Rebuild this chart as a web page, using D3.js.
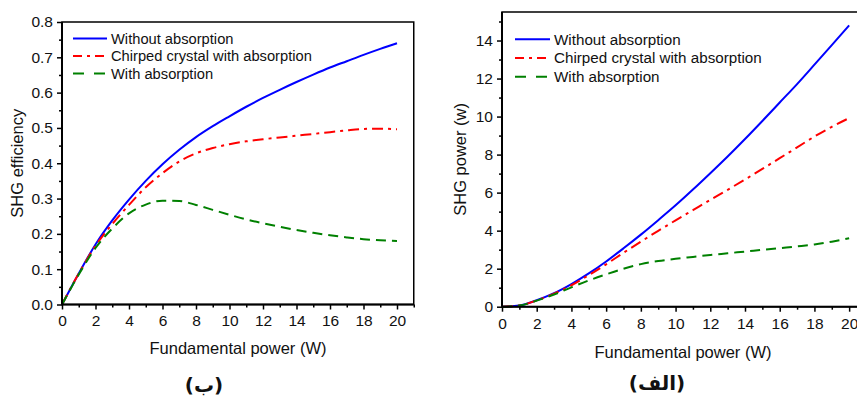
<!DOCTYPE html>
<html>
<head>
<meta charset="utf-8">
<script src="https://cdn.jsdelivr.net/npm/d3@7"></script>
<style>
  body { margin: 0; background: #fff; }
  svg { display: block; font-family: "Liberation Sans", Arial, sans-serif; }
  .tick text { font-size: 15.5px; fill: #111; }
  .axis-title { font-size: 16.5px; fill: #111; }
  .legend text { font-size: 14.7px; fill: #111; }
  .panel-label { font-family: "DejaVu Sans", sans-serif; font-weight: bold; font-size: 20px; fill: #111; }
</style>
</head>
<body>
<div id="chart"></div>
<script>
// Fundamental power (W)
const power = [0, 1, 2, 3, 4, 5, 6, 7, 8, 9, 10, 11, 12, 13, 14, 15, 16, 17, 18, 19, 20];

// Left panel (ب): SHG efficiency
const effWithout = [0, 0.088, 0.17, 0.238, 0.297, 0.35, 0.397, 0.438, 0.474, 0.505, 0.533, 0.56, 0.585, 0.608, 0.63, 0.651, 0.671, 0.689, 0.707, 0.724, 0.74];
const effChirped = [0, 0.088, 0.166, 0.228, 0.282, 0.332, 0.372, 0.405, 0.428, 0.443, 0.454, 0.462, 0.468, 0.473, 0.478, 0.483, 0.488, 0.493, 0.497, 0.498, 0.496];
const effWith    = [0, 0.085, 0.16, 0.215, 0.258, 0.283, 0.294, 0.293, 0.282, 0.268, 0.254, 0.241, 0.23, 0.22, 0.211, 0.203, 0.196, 0.19, 0.185, 0.182, 0.18];

// Right panel (الف): SHG power (w)
const powWithout = [0, 0.06, 0.34, 0.71, 1.19, 1.75, 2.38, 3.07, 3.79, 4.55, 5.33, 6.16, 7.02, 7.9, 8.82, 9.77, 10.74, 11.71, 12.73, 13.76, 14.8];
const powChirped = [0, 0.06, 0.33, 0.684, 1.128, 1.66, 2.23, 2.835, 3.42, 3.99, 4.54, 5.08, 5.62, 6.15, 6.69, 7.245, 7.81, 8.38, 8.95, 9.46, 9.92];
const powWith    = [0, 0.06, 0.32, 0.64, 1.02, 1.38, 1.7, 2.0, 2.24, 2.4, 2.52, 2.62, 2.72, 2.81, 2.9, 2.99, 3.08, 3.17, 3.27, 3.42, 3.6];

const seriesNames = ["Without absorption", "Chirped crystal with absorption", "With absorption"];
const seriesColors = ["#0000ff", "#ff0000", "#008000"];
const seriesDashes = [null, "11,5,3,5", "10,6"];

const xTicks = [0, 2, 4, 6, 8, 10, 12, 14, 16, 18, 20];
const xMinorTicks = [1, 3, 5, 7, 9, 11, 13, 15, 17, 19, 21];
const effTicks = [0, 0.1, 0.2, 0.3, 0.4, 0.5, 0.6, 0.7, 0.8];
const effMinorTicks = [0.05, 0.15, 0.25, 0.35, 0.45, 0.55, 0.65, 0.75];
const powTicks = [0, 2, 4, 6, 8, 10, 12, 14];
const powMinorTicks = [1, 3, 5, 7, 9, 11, 13, 15];

const svg = d3.select('#chart').append('svg')
    .attr('width', 857)
    .attr('height', 397);

function drawPanel(cfg) {
    const width = cfg.right - cfg.left;
    const height = cfg.bottom - cfg.top;

    const g = svg.append('g')
        .attr('transform', `translate(${cfg.left},${cfg.top})`);

    const xScale = d3.scaleLinear().domain([0, 21]).range([0, width]);
    const yScale = d3.scaleLinear().domain(cfg.yDomain).range([height, 0]);

    // minor ticks first, then the major ones with labels
    g.append('g')
        .attr('transform', `translate(0,${height})`)
        .call(d3.axisBottom(xScale).tickValues(xMinorTicks).tickSize(3).tickFormat(''))
        .call(a => a.select('.domain').remove());
    g.append('g')
        .attr('transform', `translate(0,${height})`)
        .call(d3.axisBottom(xScale).tickValues(xTicks).tickSize(5).tickPadding(cfg.xPad))
        .call(a => a.select('.domain').remove());

    g.append('g')
        .call(d3.axisLeft(yScale).tickValues(cfg.yMinor).tickSize(3).tickFormat(''))
        .call(a => a.select('.domain').remove());
    g.append('g')
        .call(d3.axisLeft(yScale).tickValues(cfg.yTicks).tickSize(5).tickPadding(4).tickFormat(cfg.yFormat))
        .call(a => a.select('.domain').remove());

    g.selectAll('.tick line').attr('stroke', '#000').attr('stroke-width', 1.5);

    // curves
    const line = d3.line()
        .x((d, i) => xScale(power[i]))
        .y(d => yScale(d))
        .curve(d3.curveMonotoneX);

    g.selectAll('.curve')
        .data(cfg.series)
        .join('path')
        .attr('class', 'curve')
        .attr('d', d => line(d))
        .attr('fill', 'none')
        .attr('stroke', (d, i) => seriesColors[i])
        .attr('stroke-width', 2)
        .attr('stroke-dasharray', (d, i) => seriesDashes[i]);

    // frame
    g.append('rect')
        .attr('width', width)
        .attr('height', height)
        .attr('fill', 'none')
        .attr('stroke', '#000')
        .attr('stroke-width', 1.5);
    g.append('line')
        .attr('x1', 0).attr('x2', 0).attr('y1', 0).attr('y2', height)
        .attr('stroke', '#000').attr('stroke-width', 2);
    g.append('line')
        .attr('x1', 0).attr('x2', width).attr('y1', height).attr('y2', height)
        .attr('stroke', '#000').attr('stroke-width', 2);

    // legend
    const legend = g.append('g').attr('class', 'legend');
    const rows = legend.selectAll('g')
        .data(seriesNames)
        .join('g')
        .attr('transform', (d, i) => `translate(0,${cfg.legendY + i * cfg.legendGap})`);
    rows.append('line')
        .attr('x1', cfg.legendX).attr('x2', cfg.legendX + cfg.legendLen)
        .attr('stroke', (d, i) => seriesColors[i])
        .attr('stroke-width', 2)
        .attr('stroke-dasharray', (d, i) => i === 1 ? '9,5,3,5' : (i === 2 ? '11,10' : null));
    rows.append('text')
        .attr('x', cfg.legendX + cfg.legendLen + 4)
        .attr('dy', '0.35em')
        .style('font-size', cfg.legendFont)
        .text(d => d);

    // axis titles
    svg.append('text')
        .attr('class', 'axis-title')
        .attr('text-anchor', 'middle')
        .attr('x', cfg.xTitleX)
        .attr('y', cfg.xTitleY)
        .text('Fundamental power (W)');
    svg.append('text')
        .attr('class', 'axis-title')
        .attr('text-anchor', 'middle')
        .attr('transform', `translate(${cfg.yTitleX},${(cfg.top + cfg.bottom) / 2}) rotate(-90)`)
        .text(cfg.yTitle);

    svg.append('text')
        .attr('class', 'panel-label')
        .attr('text-anchor', 'middle')
        .attr('x', cfg.labelX)
        .attr('y', cfg.labelY)
        .text(cfg.label);
}

drawPanel({
    left: 62, right: 413.75, top: 22, bottom: 304.5,
    yDomain: [0, 0.8], yTicks: effTicks, yMinor: effMinorTicks, yFormat: d3.format('.1f'),
    xPad: 5,
    series: [effWithout, effChirped, effWith],
    legendX: 11, legendLen: 34, legendY: 16.5, legendGap: 17.5, legendFont: '14.7px',
    xTitleX: 238, xTitleY: 354, yTitleX: 23, yTitle: 'SHG efficiency',
    labelX: 204, labelY: 392, label: '(ب)'
});

drawPanel({
    left: 502, right: 866.5, top: 12, bottom: 306.7,
    yDomain: [0, 15.5], yTicks: powTicks, yMinor: powMinorTicks, yFormat: d3.format('d'),
    xPad: 6,
    series: [powWithout, powChirped, powWith],
    legendX: 13, legendLen: 35, legendY: 27.3, legendGap: 18.7, legendFont: '15.2px',
    xTitleX: 683, xTitleY: 358, yTitleX: 466, yTitle: 'SHG power (w)',
    labelX: 657, labelY: 390, label: '(الف)'
});
</script>
</body>
</html>
